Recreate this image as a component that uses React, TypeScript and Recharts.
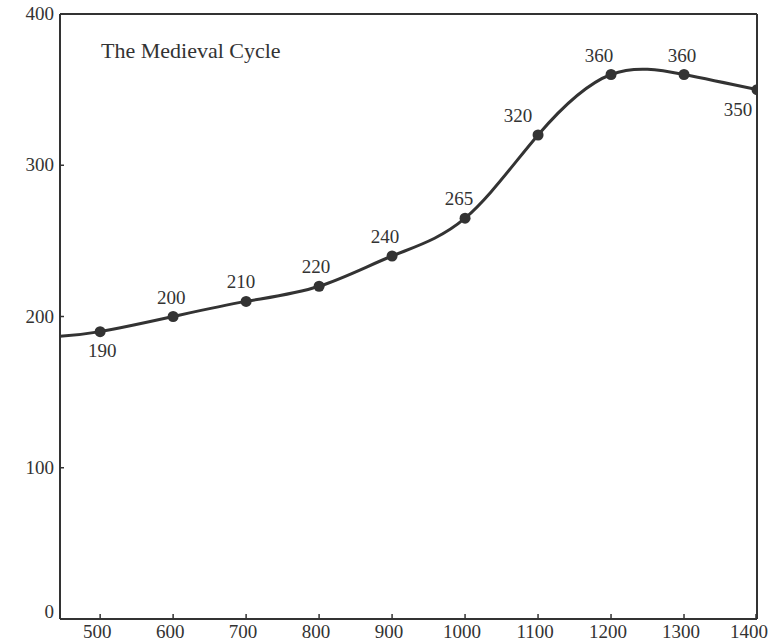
import { LabelList, Line, LineChart, ReferenceLine, XAxis, YAxis } from "recharts";

// first entry is where the curve enters at the left edge (no marker)
const YEARS = [445, 500, 600, 700, 800, 900, 1000, 1100, 1200, 1300, 1400];
const VALUES = [187, 190, 200, 210, 220, 240, 265, 320, 360, 360, 350];
const X_TICKS = [500, 600, 700, 800, 900, 1000, 1100, 1200, 1300, 1400];
const Y_TICKS = [0, 100, 200, 300, 400];

// label offsets from each marker (dx, dy), styling only
const LABEL_OFFSETS: [number, number][] = [
  [0, 0],
  [2, 25],
  [-2, -13],
  [-5, -13],
  [-3, -13],
  [-7, -13],
  [-6, -13],
  [-20, -13],
  [-12, -13],
  [-2, -13],
  [-19, 26],
];

const INK = "#333";
const FONT = "'Liberation Serif', 'DejaVu Serif', serif";

const data = YEARS.map((year, i) => ({ year, value: VALUES[i] }));

function XTick({ x, y, payload }: any) {
  const cx = Math.min(x - 3, 749);
  return (
    <g>
      <line x1={x} y1={y} x2={x} y2={y - 5} stroke={INK} strokeWidth={1.5} />
      <text x={cx} y={y + 19} textAnchor="middle" fontFamily={FONT} fontSize={19} fill={INK}>
        {payload.value}
      </text>
    </g>
  );
}

function YTick({ x, y, payload }: any) {
  return (
    <g>
      <line x1={x} y1={y} x2={x + 4} y2={y} stroke={INK} strokeWidth={1.5} />
      <text x={x - 6} y={payload.value === 0 ? y - 1 : y + 6} textAnchor="end" fontFamily={FONT} fontSize={19} fill={INK}>
        {payload.value}
      </text>
    </g>
  );
}

function Dot({ cx, cy, index }: any) {
  if (index === 0) return <g key={index} />;
  return <circle key={index} cx={cx} cy={cy} r={5.5} fill={INK} />;
}

function PointLabel({ x, y, index, value }: any) {
  if (index === 0) return null;
  const [dx, dy] = LABEL_OFFSETS[index];
  return (
    <text x={x + dx} y={y + dy} textAnchor="middle" fontFamily={FONT} fontSize={19} fill={INK}>
      {value}
    </text>
  );
}

export default function App() {
  return (
    <div style={{ position: "absolute", left: 0, top: 0, width: 772, height: 642, background: "#fff" }}>
      <LineChart width={772} height={642} data={data} margin={{ top: 14, right: 15, bottom: 0, left: 0 }}>
        <XAxis
          dataKey="year"
          type="number"
          domain={[445, 1400]}
          ticks={X_TICKS}
          allowDataOverflow
          height={23}
          tickSize={0}
          tickMargin={0}
          axisLine={{ stroke: INK, strokeWidth: 2 }}
          tick={<XTick />}
        />
        <YAxis
          domain={[0, 400]}
          ticks={Y_TICKS}
          width={60}
          tickSize={0}
          tickMargin={0}
          axisLine={{ stroke: INK, strokeWidth: 2 }}
          tick={<YTick />}
        />
        <ReferenceLine y={400} stroke={INK} strokeWidth={2} />
        <ReferenceLine x={1400} stroke={INK} strokeWidth={2} />
        <Line
          dataKey="value"
          type="natural"
          stroke={INK}
          strokeWidth={3}
          dot={<Dot />}
          activeDot={false}
          isAnimationActive={false}
        >
          <LabelList dataKey="value" content={<PointLabel />} />
        </Line>
      </LineChart>
      <div
        style={{
          position: "absolute",
          left: 101,
          top: 38,
          fontFamily: FONT,
          fontSize: 22,
          lineHeight: "26px",
          color: INK,
          whiteSpace: "nowrap",
        }}
      >
        The Medieval Cycle
      </div>
    </div>
  );
}
